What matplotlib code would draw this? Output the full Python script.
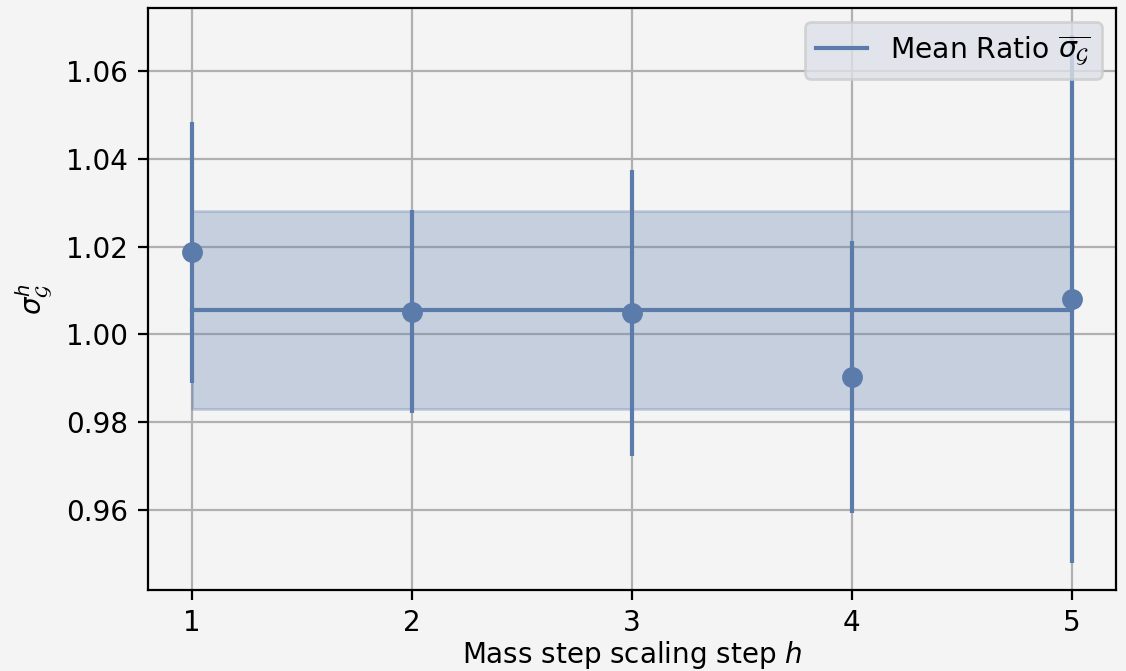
import numpy as np
import matplotlib
matplotlib.use("Agg")
import matplotlib.pyplot as plt

# data
steps = [1, 2, 3, 4, 5]
ratios = [1.0187, 1.0052, 1.0050, 0.9902, 1.0080]
errors = [0.0298, 0.0232, 0.0326, 0.0310, 0.0602]
mean_ratio = 1.0055
mean_err = 0.0226

color = '#5b7bab'
bg = '#f4f4f4'

plt.rcParams['font.size'] = 10

fig, ax = plt.subplots(figsize=(5.63, 3.355), dpi=200)
fig.patch.set_facecolor(bg)
ax.set_facecolor(bg)

ax.errorbar(steps, ratios, yerr=errors, fmt='o', color=color,
            markersize=6.5, elinewidth=1.5, capsize=0, zorder=3)
ax.plot([steps[0], steps[-1]], [mean_ratio, mean_ratio], color=color,
        linewidth=1.5, label=r'Mean Ratio $\overline{\sigma_{\mathcal{G}}}$',
        zorder=3)
ax.fill_between([steps[0], steps[-1]], mean_ratio - mean_err,
                mean_ratio + mean_err, color=color, alpha=0.3,
                linewidth=1, zorder=2)

ax.set_ylim(0.9418, 1.0744)
ax.set_xticks(steps)
ax.set_yticks([0.96, 0.98, 1.00, 1.02, 1.04, 1.06])
ax.grid(True, color='#b0b0b0', linewidth=0.8, zorder=0)
ax.set_axisbelow(True)

ax.set_xlabel('Mass step scaling step $h$', labelpad=0.5)
ax.set_ylabel(r'$\sigma_{\mathcal{G}}^h$')
ax.legend(loc='upper right', facecolor='#dde1e8', framealpha=0.8,
          fontsize=10.2, handlelength=1.8, handletextpad=0.8)

fig.subplots_adjust(left=0.131, right=0.991, top=0.988, bottom=0.121)
fig.savefig('out.png', dpi=200, facecolor=bg)
